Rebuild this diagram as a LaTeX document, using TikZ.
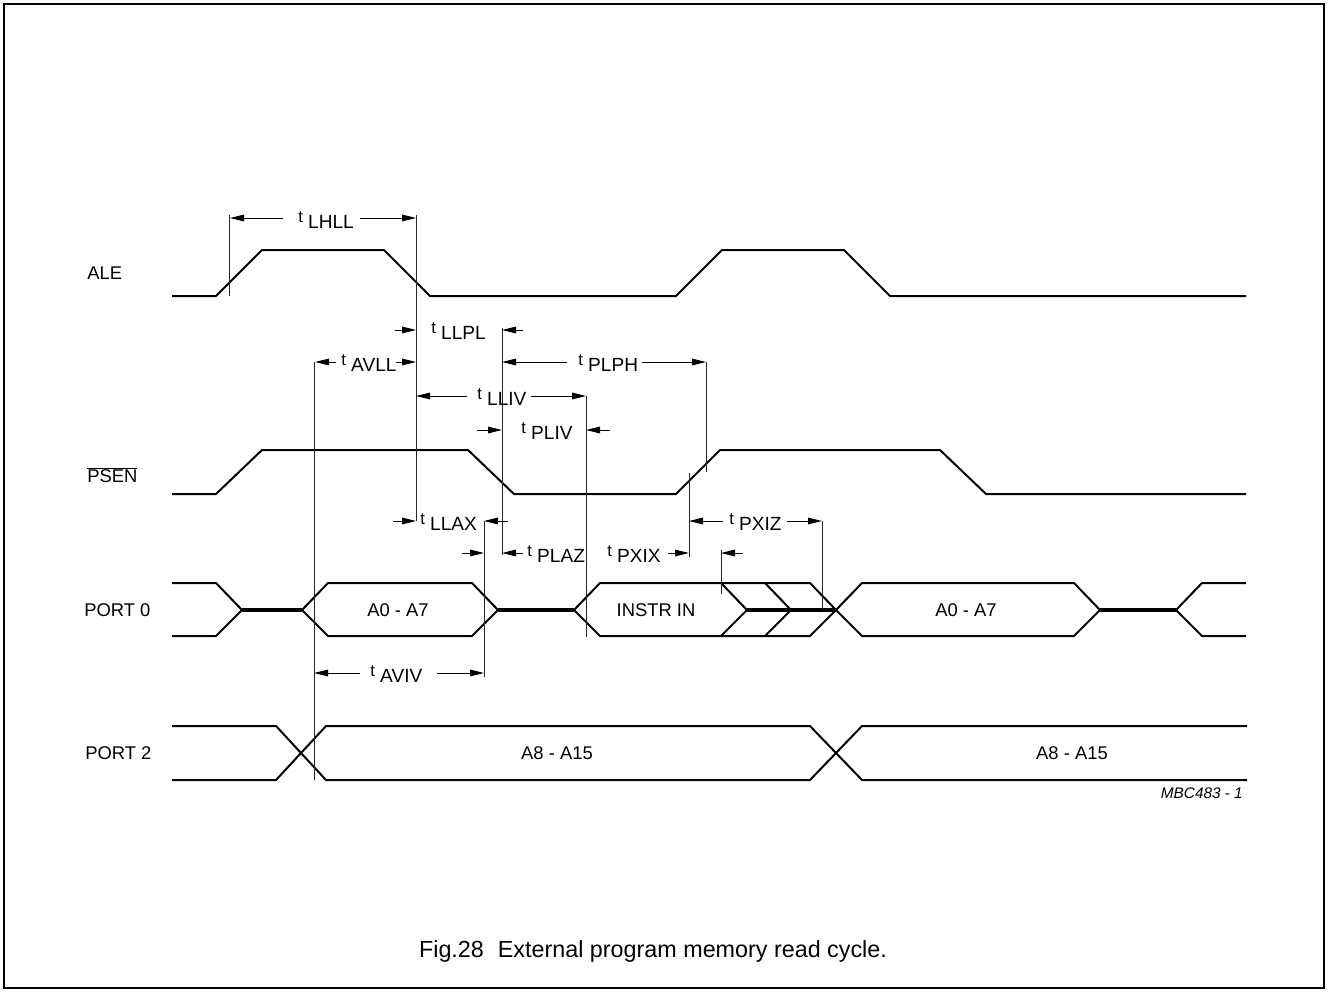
\documentclass[tikz,border=0pt]{standalone}
\usepackage{fontspec}
\setmainfont{Liberation Sans}
\usetikzlibrary{arrows.meta}
\newcommand\tlab[1]{{\fontsize{12.5}{13}\selectfont t}\hspace{4pt}\raisebox{-4.5pt}{#1}}
\begin{document}
\begin{tikzpicture}[x=0.75pt,y=-0.75pt,
  sig/.style={line width=1.5pt, line join=miter},
  flt/.style={line width=2.3pt},
  guide/.style={line width=0.7pt, black!85},
  dim/.style={line width=0.7pt, -{Triangle[length=10.5pt,width=5pt]}},
  lab/.style={font=\fontsize{13.8}{14}\selectfont, inner sep=0pt},
  tl/.style={font=\fontsize{14.3}{15}\selectfont, inner sep=0pt, anchor=base west},
]
\useasboundingbox (0,0) rectangle (1328,992);
\draw[line width=0.8pt] (4,4) rectangle (1324,988);

% signal names
\node[lab, anchor=west] (ale)  at (87,273) {ALE};
\node[lab, anchor=west] (psen) at (87,475) {$\overline{\mbox{PSEN}}$};
\node[lab, anchor=west] (p0)   at (84,610) {PORT 0};
\node[lab, anchor=west] (p2)   at (85,753) {PORT 2};

% ALE
\draw[sig] (172,296) -- (216,296) -- (262,250) -- (384,250) -- (430,296) -- (676,296) -- (722,250) -- (844,250) -- (890,296) -- (1246,296);
% PSEN
\draw[sig] (172,494) -- (216,494) -- (262,450) -- (468,450) -- (514,494) -- (676,494) -- (720,450) -- (940,450) -- (986,494) -- (1246,494);

% PORT 0
\draw[sig] (172,583) -- (216,583) -- (242,610) -- (216,636) -- (172,636);
\draw[flt] (242,610) -- (302,610);
\draw[sig] (302,610) -- (328,583) -- (472,583) -- (498,610) -- (472,636) -- (328,636) -- cycle;
\draw[flt] (498,610) -- (574,610);
\draw[sig] (836,610) -- (810,583) -- (600,583) -- (574,610) -- (600,636) -- (810,636) -- cycle;
\draw[sig] (721,583) -- (747,610) -- (721,636);
\draw[sig] (765,583) -- (791,610) -- (765,636);
\draw[flt] (747,610) -- (836,610);
\draw[sig] (836,610) -- (862,583) -- (1074,583) -- (1100,610) -- (1074,636) -- (862,636) -- cycle;
\draw[flt] (1100,610) -- (1176,610);
\draw[sig] (1246,583) -- (1202,583) -- (1176,610) -- (1202,636) -- (1246,636);

% PORT 2
\draw[sig] (172,726) -- (276,726) -- (326,780) -- (810,780) -- (862,726) -- (1247,726);
\draw[sig] (172,780) -- (276,780) -- (326,726) -- (810,726) -- (862,780) -- (1247,780);

% bus texts
\node[lab] (a07a)  at (398,610) {A0 - A7};
\node[lab] (instr) at (656,610) {INSTR IN};
\node[lab] (a07b)  at (966,610) {A0 - A7};
\node[lab] (a815a) at (557,753) {A8 - A15};
\node[lab] (a815b) at (1072,753) {A8 - A15};
\node[font=\fontsize{11.5}{12}\selectfont\itshape, inner sep=0pt, anchor=east] (ref) at (1243,793) {MBC483 - 1};

% guide lines
\draw[guide] (229,215) -- (229,296);
\draw[guide] (416,215) -- (416,521);
\draw[guide] (314,362) -- (314,780);
\draw[guide] (502,328) -- (502,555);
\draw[guide] (706,362) -- (706,472);
\draw[guide] (586,396) -- (586,637);
\draw[guide] (484,521) -- (484,677);
\draw[guide] (689,473) -- (689,557);
\draw[guide] (822,521) -- (822,610);
\draw[guide] (721,550) -- (721,594);

% dimension arrows and labels
\draw[dim] (283,218) -- (230,218);
\draw[dim] (360,218) -- (416,218);
\node[tl] (lhll) at (298,222) {\tlab{LHLL}};

\draw[dim] (395,330) -- (416,330);
\draw[dim] (523,330) -- (502,330);
\node[tl] (llpl) at (431,333) {\tlab{LLPL}};

\draw[dim] (336,362) -- (315,362);
\draw[dim] (396,362) -- (416,362);
\node[tl] (avll) at (341,365) {\tlab{AVLL}};

\draw[dim] (567,362) -- (502,362);
\draw[dim] (642,362) -- (706,362);
\node[tl] (plph) at (578,365) {\tlab{PLPH}};

\draw[dim] (467,396) -- (416,396);
\draw[dim] (531,396) -- (586,396);
\node[tl] (lliv) at (477,399) {\tlab{LLIV}};

\draw[dim] (477,430) -- (502,430);
\draw[dim] (610,430) -- (586,430);
\node[tl] (pliv) at (521,433) {\tlab{PLIV}};

\draw[dim] (393,521) -- (416,521);
\draw[dim] (508,521) -- (484,521);
\node[tl] (llax) at (420,524) {\tlab{LLAX}};

\draw[dim] (462,553) -- (484,553);
\draw[dim] (523,553) -- (502,553);
\node[tl] (plaz) at (527,556) {\tlab{PLAZ}};

\draw[dim] (668,553) -- (689,553);
\draw[dim] (743,553) -- (721,553);
\node[tl] (pxix) at (607,556) {\tlab{PXIX}};

\draw[dim] (723,521) -- (689,521);
\draw[dim] (787,521) -- (822,521);
\node[tl] (pxiz) at (729,524) {\tlab{PXIZ}};

\draw[dim] (360,673) -- (314,673);
\draw[dim] (437,673) -- (484,673);
\node[tl] (aviv) at (370,676) {\tlab{AVIV}};

% caption
\node[font=\fontsize{17.5}{18}\selectfont, inner sep=0pt, anchor=base] (cap) at (653,957) {Fig.28\hspace{0.6em}External program memory read cycle.};
\end{tikzpicture}
\end{document}
